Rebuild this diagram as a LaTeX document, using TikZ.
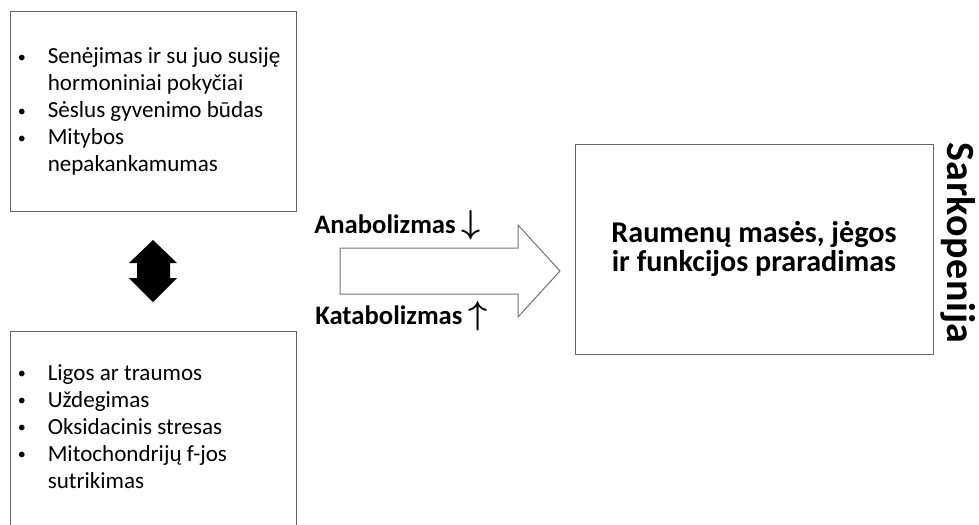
\documentclass[tikz,border=0pt]{standalone}
\usepackage{fontspec}
\setmainfont{Carlito}
\usetikzlibrary{positioning}

\newcommand{\bul}{\raisebox{1.2pt}{\fontsize{12}{12}\selectfont\textbullet}}
\newcommand{\arr}[1]{{\fontsize{24}{24}\selectfont\boldmath$#1$}}

\tikzset{
  box/.style={draw=black!60, line width=0.75pt, minimum width=214.5pt, minimum height=150pt},
  list/.style={inner sep=0pt, anchor=north west, font=\fontsize{17.3}{20.25}\selectfont},
  lbl/.style={inner sep=0pt, anchor=base west, font=\bfseries\fontsize{20}{24}\selectfont},
}

\begin{document}
\begin{tikzpicture}[x=0.75pt,y=-0.75pt]
  \useasboundingbox (0,0) rectangle (979,525);
  \node[box] (top) at (153,111) {};
  \node[box] (bot) at (153,431) {};
  \node[box, minimum width=268.5pt, minimum height=157.5pt, align=center,
        font=\bfseries\fontsize{22.6}{21.75}\selectfont] (loss) at (754,249)
    {Raumenų masės, jėgos\\ir funkcijos praradimas};

  \node[list] (toplist) at ([xshift=6pt,yshift=-25.5pt]top.north west)
    {\begin{tabular}{@{}p{22.5pt}@{}l@{}}
     \bul & Senėjimas ir su juo susiję\\
          & hormoniniai pokyčiai\\
     \bul & Sėslus gyvenimo būdas\\
     \bul & Mitybos\\
          & nepakankamumas
     \end{tabular}};
  \node[list] (botlist) at ([xshift=6pt,yshift=-23pt]bot.north west)
    {\begin{tabular}{@{}p{22.5pt}@{}l@{}}
     \bul & Ligos ar traumos\\
     \bul & Uždegimas\\
     \bul & Oksidacinis stresas\\
     \bul & Mitochondrijų f-jos\\
          & sutrikimas
     \end{tabular}};

  % abipusis rodiklis
  \fill (153,240) -- (177,263) -- (170,263) -- (170,278) -- (177,278) -- (153,302)
    -- (129,278) -- (137,278) -- (137,263) -- (129,263) -- cycle;

  % didzioji rodykle
  \draw[black!55, line width=0.75pt] (340,248) -- (518,248) -- (518,225) -- (560,271)
    -- (518,317) -- (518,294) -- (340,294) -- cycle;

  \node[lbl] (ana) at (314,233) {Anabolizmas \arr{\downarrow}};
  \node[lbl] (kata) at (315,324) {Katabolizmas \arr{\uparrow}};

  \node[rotate=-90, anchor=base west, inner sep=0pt,
        font=\bfseries\fontsize{30}{36}\selectfont\addfontfeature{LetterSpace=1.5}]
    (sark) at (947,142) {Sarkopenija};
\end{tikzpicture}
\end{document}
